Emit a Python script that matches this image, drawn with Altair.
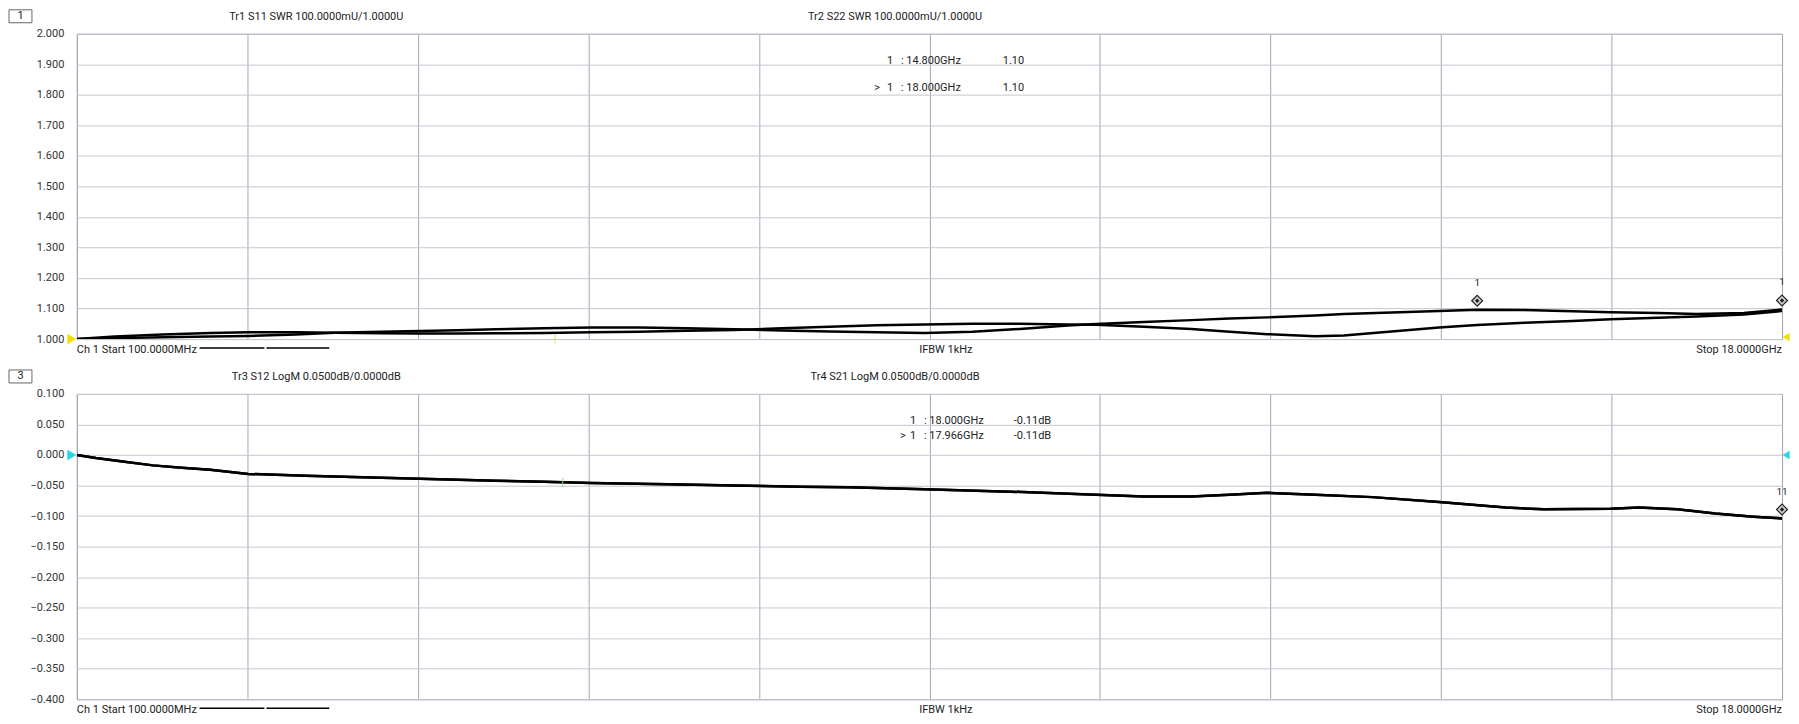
import altair as alt
import pandas as pd

# ---------------- data ----------------
freq_top = [0.1, 0.5, 1.0, 1.5, 1.9, 2.4, 2.8, 3.3, 3.7, 4.1, 4.5, 5.0, 5.5, 6.0, 6.5,
            7.0, 7.5, 8.0, 8.5, 9.0, 9.5, 10.0, 10.5, 10.8, 11.3, 11.8, 12.2, 12.6,
            13.1, 13.4, 13.9, 14.4, 14.8, 15.3, 15.8, 16.2, 16.7, 17.1, 17.6, 18.0]
s11_swr = [1.000, 1.008, 1.015, 1.020, 1.022, 1.022, 1.021, 1.019, 1.018, 1.018, 1.019,
           1.020, 1.022, 1.024, 1.027, 1.030, 1.035, 1.040, 1.045, 1.048, 1.050, 1.050,
           1.048, 1.047, 1.040, 1.033, 1.024, 1.016, 1.009, 1.012, 1.025, 1.038, 1.046,
           1.053, 1.059, 1.065, 1.070, 1.074, 1.080, 1.092]
s22_swr = [1.000, 1.003, 1.006, 1.008, 1.010, 1.015, 1.021, 1.024, 1.026, 1.029, 1.032,
           1.035, 1.038, 1.038, 1.035, 1.032, 1.028, 1.025, 1.022, 1.020, 1.024, 1.033,
           1.044, 1.049, 1.056, 1.062, 1.067, 1.071, 1.077, 1.082, 1.087, 1.092, 1.096,
           1.095, 1.091, 1.088, 1.085, 1.082, 1.085, 1.097]

freq_bot = [0.1, 0.3, 0.6, 0.9, 1.2, 1.5, 1.9, 2.5, 3.0, 3.7, 4.5, 5.0, 5.5, 6.3, 7.0,
            7.7, 8.2, 9.0, 9.9, 10.8, 11.3, 11.8, 12.2, 12.6, 13.1, 13.7, 14.4, 15.1,
            15.5, 16.2, 16.5, 16.9, 17.3, 17.7, 18.0]
s12_db = [0.000, -0.005, -0.011, -0.017, -0.021, -0.024, -0.031, -0.034, -0.036, -0.039,
          -0.042, -0.044, -0.046, -0.048, -0.050, -0.052, -0.053, -0.056, -0.060, -0.065,
          -0.068, -0.068, -0.065, -0.062, -0.065, -0.069, -0.077, -0.086, -0.089, -0.088,
          -0.086, -0.089, -0.096, -0.101, -0.104]
s21_db = [0.000, -0.005, -0.011, -0.017, -0.021, -0.024, -0.031, -0.034, -0.036, -0.039,
          -0.042, -0.044, -0.046, -0.048, -0.050, -0.052, -0.053, -0.056, -0.060, -0.065,
          -0.068, -0.068, -0.065, -0.062, -0.065, -0.069, -0.077, -0.086, -0.089, -0.088,
          -0.086, -0.089, -0.096, -0.101, -0.104]

x_grid = [0.1, 1.89, 3.68, 5.47, 7.26, 9.05, 10.84, 12.63, 14.42, 16.21, 18.0]
y_top_ticks = [1.0, 1.1, 1.2, 1.3, 1.4, 1.5, 1.6, 1.7, 1.8, 1.9, 2.0]
y_bot_ticks = [0.1, 0.05, 0.0, -0.05, -0.1, -0.15, -0.2, -0.25, -0.3, -0.35, -0.4]

marker_top_freq = [14.8, 18.0]
marker_top_val = [1.096, 1.097]
marker_top_label = ["1", "1"]
marker_bot_freq = [18.0]
marker_bot_val = [-0.104]
marker_bot_label = ["11"]

ref_top = 1.0
ref_bot = 0.0
sweep_top = [5.12]
sweep_bot = [5.2]
sweep_bot_val = [-0.045]

# ---------------- layout constants ----------------
W, H = 1709, 306
FONT = "Roboto"
TXT = "#222222"

one = pd.DataFrame({"k": [0]})


def txt(s, x, y, align="left", size=11, color=TXT):
    return alt.Chart(one).mark_text(text=s, align=align, baseline="middle",
                                    fontSize=size, font=FONT, color=color).encode(
        x=alt.value(x), y=alt.value(y))


def seg(x1, x2, y):
    return alt.Chart(one).mark_rule(color="black", strokeWidth=1.5).encode(
        x=alt.value(x1), x2=alt.value(x2), y=alt.value(y))


def box(label):
    r = alt.Chart(one).mark_rect(fill="white", stroke="#666666", strokeWidth=1).encode(
        x=alt.value(-68), x2=alt.value(-45), y=alt.value(-24), y2=alt.value(-11))
    return r + txt(label, -56.5, -17.5, align="center")


def panel(freq, series, names, domain, ticks, refval, mk_f, mk_v, mk_l, ref_color,
          titles, rows, sweep_f, sweep_v, sweep_color, right_ref_y):
    xs = alt.X("f:Q", scale=alt.Scale(domain=[0.1, 18.0], nice=False, zero=False),
               axis=alt.Axis(values=x_grid, labels=False, ticks=False, domain=False,
                             grid=True, gridColor="#a6a6ba", gridWidth=1, title=None))
    ys = alt.Y("v:Q", scale=alt.Scale(domain=domain, nice=False, zero=False),
               axis=alt.Axis(values=ticks, format=".3f", ticks=False, domain=False,
                             grid=True, gridColor="#c6c6d2", gridWidth=1, title=None,
                             labelPadding=13, labelFontSize=11, labelFont=FONT,
                             labelColor="#333333", labelOverlap=False,
                             labelFlush=False))
    rows_df = []
    for n, s in zip(names, series):
        for f, v in zip(freq, s):
            rows_df.append({"f": f, "v": v, "trace": n})
    df = pd.DataFrame(rows_df)

    lines = alt.Chart(df).mark_line(color="black", strokeWidth=2.5, clip=True).encode(
        x=xs, y=ys, detail="trace:N")

    ref_df = pd.DataFrame({"f": [0.1], "v": [refval]})
    ref_left = alt.Chart(ref_df).mark_point(shape="triangle-right", filled=True, opacity=1,
                                            color=ref_color, size=110).encode(
        x=alt.value(-5), y=ys)
    ref_right = alt.Chart(ref_df).mark_point(shape="triangle-left", filled=True, opacity=1,
                                             color=ref_color, size=70).encode(
        x=alt.value(W + 4), y=ys if right_ref_y is None else alt.value(right_ref_y))

    mk_df = pd.DataFrame({"f": mk_f, "v": mk_v, "lab": mk_l})
    mk_outer = alt.Chart(mk_df).mark_point(shape="diamond", filled=True, fill="#d0d0d0",
                                           stroke="#222222", strokeWidth=1.2, size=120,
                                           opacity=1, yOffset=-9).encode(x=xs, y=ys)
    mk_inner = alt.Chart(mk_df).mark_point(shape="diamond", filled=True, color="#222222",
                                           size=20, opacity=1, yOffset=-9).encode(
        x=xs, y=ys)
    mk_lab = alt.Chart(mk_df).mark_text(fontSize=10, font=FONT, color=TXT, dy=-27).encode(
        x=xs, y=ys, text="lab:N")

    sw_df = pd.DataFrame({"f": sweep_f, "v": sweep_v})
    sweep = alt.Chart(sw_df).mark_tick(orient="vertical", color=sweep_color, size=9,
                                       thickness=1.5).encode(x=xs, y=ys)

    layers = [lines, sweep, ref_left, ref_right, mk_outer, mk_inner, mk_lab]
    layers.append(txt(titles[0], 240, -17, align="center"))
    layers.append(txt(titles[1], 820, -17, align="center"))
    for r in rows:
        layers.extend(r)
    layers.append(txt("Ch 1 Start 100.0000MHz", 0, H + 11))
    layers.append(seg(123, 188, H + 9))
    layers.append(seg(190, 253, H + 9))
    layers.append(txt("IFBW 1kHz", 871, H + 11, align="center"))
    layers.append(txt("Stop 18.0000GHz", W, H + 11, align="right"))
    return alt.layer(*layers).properties(width=W, height=H)


top_rows = [
    [txt("1", 815, 27, align="center"), txt(": 14.800GHz", 826, 27), txt("1.10", 928, 27)],
    [txt(">", 802, 54, align="center"), txt("1", 815, 54, align="center"),
     txt(": 18.000GHz", 826, 54), txt("1.10", 928, 54)],
]
bot_rows = [
    [txt("1", 838, 27, align="center"), txt(": 18.000GHz", 849, 27), txt("-0.11dB", 939, 27)],
    [txt(">", 828, 42, align="center"), txt("1", 838, 42, align="center"),
     txt(": 17.966GHz", 849, 42), txt("-0.11dB", 939, 42)],
]

top = alt.layer(
    panel(freq_top, [s11_swr, s22_swr], ["S11", "S22"], [1.0, 2.0], y_top_ticks, ref_top,
          marker_top_freq, marker_top_val, marker_top_label, "#f2e100",
          ["Tr1 S11 SWR 100.0000mU/1.0000U", "Tr2 S22 SWR 100.0000mU/1.0000U"], top_rows,
          sweep_top, [1.0], "#e8e060", H - 2),
    box("1"),
)
bottom = alt.layer(
    panel(freq_bot, [s12_db, s21_db], ["S12", "S21"], [-0.4, 0.1], y_bot_ticks, ref_bot,
          marker_bot_freq, marker_bot_val, marker_bot_label, "#22d8e6",
          ["Tr3 S12 LogM 0.0500dB/0.0000dB", "Tr4 S21 LogM 0.0500dB/0.0000dB"], bot_rows,
          sweep_bot, sweep_bot_val, "#7ee07e", None),
    box("3"),
)

chart = alt.vconcat(top, bottom, spacing=55, bounds="flush").properties(
    padding=0, background="white"
).configure_view(stroke="#9a9aaa", strokeWidth=1).configure_axis(labelOverlap=False)

chart.save("out.html", embed_options={"renderer": "svg", "actions": False})
